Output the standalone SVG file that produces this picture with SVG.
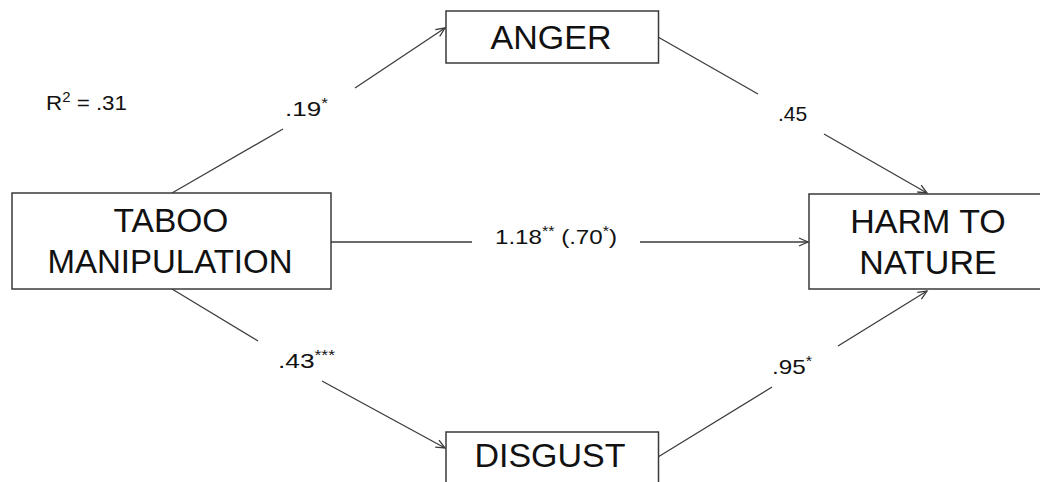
<svg xmlns="http://www.w3.org/2000/svg" width="1040" height="482" viewBox="0 0 1040 482">
  <style>
    .box { fill: #ffffff; stroke: #3a3a3a; stroke-width: 1.5; }
    .node-text { font-family: "Liberation Sans", Arial, sans-serif; font-size: 34px; fill: #111111; text-anchor: middle; }
    .label { font-family: "Liberation Sans", Arial, sans-serif; font-size: 21px; fill: #111111; }
    .sup { font-size: 14px; }
    .conn { fill: none; stroke: #3c3c3c; stroke-width: 1.3; }
  </style>
  <defs>
    <marker id="arrow" markerUnits="userSpaceOnUse" markerWidth="12" markerHeight="12" refX="10" refY="5" orient="auto" viewBox="0 0 12 10">
      <path d="M1,1 L10,5 L1,9" fill="none" stroke="#3c3c3c" stroke-width="1.3"/>
    </marker>
  </defs>
  <rect width="1040" height="482" fill="#ffffff"/>

  <g id="connectors">
    <path class="conn" d="M172,193 L283,129 M355,88 L445,28" marker-end="url(#arrow)"/>
    <path class="conn" d="M658,37 L758,94 M824,134 L927,193" marker-end="url(#arrow)"/>
    <path class="conn" d="M331,242 L472,242 M640,242 L808,242" marker-end="url(#arrow)"/>
    <path class="conn" d="M172,289 L258,341 M322,381 L445,448" marker-end="url(#arrow)"/>
    <path class="conn" d="M658,457 L772,387 M838,346 L927,291" marker-end="url(#arrow)"/>
  </g>

  <g id="node-taboo">
    <rect class="box" x="12" y="193" width="319" height="96"/>
    <text class="node-text" x="171" y="232" style="font-size:33.5px">TABOO</text>
    <text class="node-text" x="170" y="273" style="font-size:33px">MANIPULATION</text>
  </g>

  <g id="node-anger">
    <rect class="box" x="446" y="11" width="212.5" height="52"/>
    <text class="node-text" x="551" y="49">ANGER</text>
  </g>

  <g id="node-disgust">
    <rect class="box" x="446" y="432" width="212.5" height="60"/>
    <text class="node-text" x="550" y="467">DISGUST</text>
  </g>

  <g id="node-harm">
    <rect class="box" x="809" y="194" width="240" height="95"/>
    <text class="node-text" x="928" y="233">HARM TO</text>
    <text class="node-text" x="928" y="274">NATURE</text>
  </g>

  <g id="labels">
    <text class="label" x="46" y="110" textLength="81" lengthAdjust="spacingAndGlyphs">R<tspan class="sup" dy="-8">2</tspan><tspan dy="8"> =  .31</tspan></text>
    <text class="label" x="285" y="116" textLength="43" lengthAdjust="spacingAndGlyphs">.19<tspan class="sup" dy="-8">*</tspan></text>
    <text class="label" x="778" y="121">.45</text>
    <text class="label" x="495" y="243.5" textLength="122" lengthAdjust="spacingAndGlyphs">1.18<tspan class="sup" dy="-8">**</tspan><tspan dy="8"> (.70</tspan><tspan class="sup" dy="-8">*</tspan><tspan dy="8">)</tspan></text>
    <text class="label" x="278" y="368" textLength="57" lengthAdjust="spacingAndGlyphs">.43<tspan class="sup" dy="-8">***</tspan></text>
    <text class="label" x="772" y="374" textLength="40" lengthAdjust="spacingAndGlyphs">.95<tspan class="sup" dy="-8">*</tspan></text>
  </g>
</svg>
